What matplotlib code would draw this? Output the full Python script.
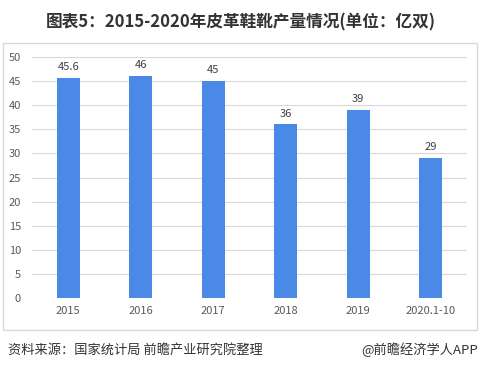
import matplotlib
matplotlib.use("Agg")
import matplotlib.pyplot as plt
from matplotlib.patches import Rectangle

plt.rcParams['font.family'] = ['Noto Sans CJK SC', 'DejaVu Sans']

categories = ["2015", "2016", "2017", "2018", "2019", "2020.1-10"]
values = [45.6, 46, 45, 36, 39, 29]
value_labels = ["45.6", "46", "45", "36", "39", "29"]
yticks = [0, 5, 10, 15, 20, 25, 30, 35, 40, 45, 50]

fig = plt.figure(figsize=(4.81, 3.70), dpi=100)
fig.patch.set_facecolor("white")

# outer box
fig.patches.append(Rectangle((3/481, 1-330/370), 474/481, 287/370, transform=fig.transFigure,
                             fill=False, edgecolor="#d9d9d9", linewidth=1.0))

ax = fig.add_axes([32/481, 1-298/370, 435/481, 241/370])
x = list(range(len(categories)))
ax.bar(x, values, width=0.32, color="#4a89e5", zorder=3)
for xi, v, lab in zip(x, values, value_labels):
    ax.text(xi, v + 1.2, lab, ha="center", va="bottom", fontsize=8, color="#404040")
ax.set_xlim(-0.5, len(categories) - 0.5)
ax.set_ylim(0, 50)
ax.set_yticks(yticks)
ax.set_xticks(x)
ax.set_xticklabels(categories)
ax.yaxis.grid(True, color="#d9d9d9", linewidth=0.8, zorder=0)
for s in ax.spines.values():
    s.set_visible(False)
ax.tick_params(axis="both", length=0, labelsize=8, colors="#595959")
ax.tick_params(axis="y", pad=8)
ax.tick_params(axis="x", pad=6)

fig.text(0.5, 1-22/370, "图表5：2015-2020年皮革鞋靴产量情况(单位：亿双)", ha="center", va="center",
         fontsize=12, fontweight="bold", color="#333333")
fig.text(8/481, 1-350/370, "资料来源：国家统计局 前瞻产业研究院整理", ha="left", va="center",
         fontsize=9.5, color="#333333")
fig.text(478/481, 1-350/370, "@前瞻经济学人APP", ha="right", va="center",
         fontsize=9.5, color="#333333")

fig.savefig("out.png", dpi=100)
